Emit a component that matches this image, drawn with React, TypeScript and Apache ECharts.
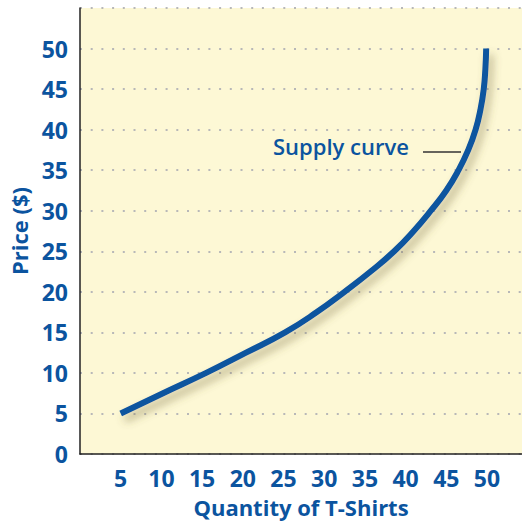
import React, { useEffect, useRef } from "react";
import * as echarts from "echarts";

const quantities = [5, 10.2, 15.5, 20.4, 25.2, 29.1, 32.5, 35.7, 38.6, 41.0, 43.1, 45.0, 46.5, 47.7, 48.6, 49.2, 49.6, 49.8, 49.9];
const prices = [5, 7.5, 10, 12.5, 15, 17.5, 20, 22.5, 25, 27.5, 30, 32.5, 35, 37.5, 40, 42.5, 45, 47.5, 50];
const xTickLabels = [5, 10, 15, 20, 25, 30, 35, 40, 45, 50];
const yTickLabels = [0, 5, 10, 15, 20, 25, 30, 35, 40, 45, 50];
const curveLabel = "Supply curve";
const xTitle = "Quantity of T-Shirts";
const yTitle = "Price ($)";

const BLUE = "#0b549f";
const FONT = "'Open Sans', Lato, sans-serif";

export default function App() {
  const ref = useRef<HTMLDivElement>(null);
  useEffect(() => {
    if (!ref.current) return;
    const chart = echarts.init(ref.current, undefined, { renderer: "svg" });
    const data = quantities.map((q, i) => [q, prices[i]]);
    chart.setOption({
      animation: false,
      grid: {
        left: 80,
        right: 0,
        top: 8,
        bottom: 71,
        show: true,
        backgroundColor: "#fdf8d5",
        borderWidth: 0,
      },
      xAxis: {
        type: "value",
        min: 0,
        max: 54.3,
        interval: 5,
        name: xTitle,
        nameLocation: "middle",
        nameGap: 42,
        nameTextStyle: { color: BLUE, fontSize: 22, fontWeight: "bold", fontFamily: FONT },
        axisLine: { show: true, lineStyle: { color: "#222", width: 1.5 } },
        axisTick: { show: false },
        splitLine: { show: false },
        axisLabel: {
          color: BLUE,
          fontSize: 23,
          fontWeight: "bold",
          fontFamily: FONT,
          margin: 12,
          showMaxLabel: false,
          formatter: (v: number) => (xTickLabels.includes(v) ? String(v) : ""),
        },
      },
      yAxis: {
        type: "value",
        min: 0,
        max: 55,
        interval: 5,
        name: yTitle,
        nameLocation: "middle",
        nameGap: 50,
        nameRotate: 90,
        nameTextStyle: { color: BLUE, fontSize: 22, fontWeight: "bold", fontFamily: FONT },
        axisLine: { show: true, lineStyle: { color: "#222", width: 1.5 } },
        axisTick: { show: false },
        splitLine: {
          show: true,
          lineStyle: { color: "#b8b8b8", width: 2, type: [2, 8.7] },
        },
        axisLabel: {
          color: BLUE,
          fontSize: 23,
          fontWeight: "bold",
          fontFamily: FONT,
          margin: 12,
          formatter: (v: number) => (yTickLabels.includes(v) ? String(v) : ""),
        },
      },
      graphic: [
        {
          type: "text",
          left: 273,
          top: 135,
          style: {
            text: curveLabel,
            fill: BLUE,
            font: `600 22px ${FONT}`,
          },
        },
        {
          type: "line",
          shape: { x1: 423, y1: 152, x2: 461, y2: 152 },
          style: { stroke: "#333", lineWidth: 1.5 },
        },
      ],
      series: [
        {
          type: "line",
          data,
          smooth: 0.5,
          symbol: "none",
          lineStyle: {
            color: BLUE,
            width: 6,
            cap: "butt",
            shadowColor: "rgba(110, 100, 50, 0.45)",
            shadowBlur: 8,
            shadowOffsetX: 4,
            shadowOffsetY: 6,
          },
        },
      ],
    });
    return () => chart.dispose();
  }, []);
  return <div ref={ref} style={{ width: 522, height: 525, position: "absolute", left: 0, top: 0 }} />;
}
